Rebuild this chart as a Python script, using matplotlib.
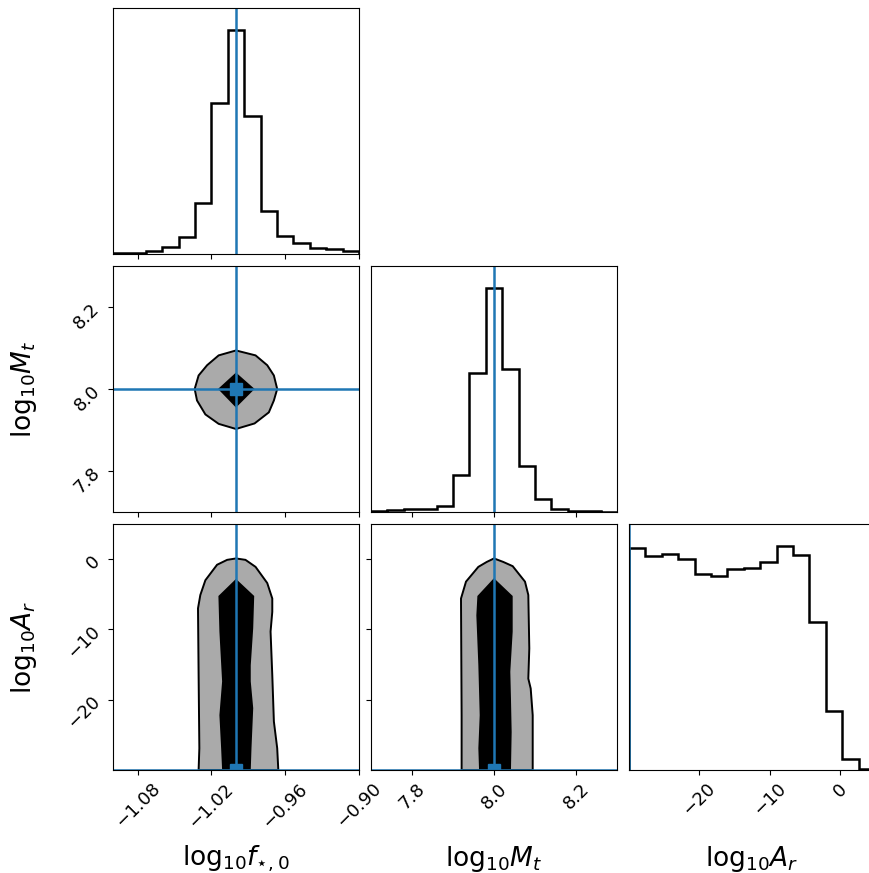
import numpy as np
import matplotlib
matplotlib.use("Agg")
import matplotlib.pyplot as plt

# ── parameter names, ranges and true values ──
labels = [r"$\mathrm{log}_{10}f_{\star,0}$", r"$\mathrm{log}_{10}M_t$", r"$\mathrm{log}_{10}A_r$"]
ranges = [(-1.10, -0.90), (7.7, 8.3), (-30.0, 5.0)]
truths = [-1.0, 8.0, -30.0]
ticks = [[-1.08, -1.02, -0.96, -0.90], [7.8, 8.0, 8.2], [-20, -10, 0]]

# ── 1D marginal histograms (15 bins each, counts) ──
hist_f = [2, 3, 10, 20, 50, 154, 452, 670, 413, 128, 54, 33, 19, 14, 10]
hist_mt = [2, 5, 8, 10, 18, 110, 413, 663, 425, 136, 38, 8, 3, 2, 1]
hist_ar = [668, 643, 650, 635, 588, 583, 605, 608, 625, 672, 646, 445, 176, 33, 3]
hists = [hist_f, hist_mt, hist_ar]

# ── 2D contour outlines (outer = gray level, inner = black level) ──
fmt_outer_f = [-1.0, -0.9841, -0.9746, -0.9692, -0.9665, -0.9692, -0.9733, -0.9849,
               -1.0, -1.0141, -1.0249, -1.0317, -1.0336, -1.0304, -1.0235, -1.0141]
fmt_outer_m = [8.094, 8.082, 8.058, 8.033, 8.0, 7.972, 7.943, 7.916,
               7.9025, 7.915, 7.938, 7.972, 8.0, 8.033, 8.058, 8.082]
fmt_inner_f = [-1.0, -0.986, -1.0, -1.0135]
fmt_inner_m = [8.037, 8.0, 7.958, 8.0]

far_outer_f = [-1.0304, -1.0298, -1.0304, -1.0309, -1.029, -1.0249, -1.0154, -1.0072, -1.0,
               -0.9923, -0.9841, -0.9746, -0.9705, -0.9705, -0.9719, -0.9705, -0.9692,
               -0.9665, -0.9656]
far_outer_a = [-30, -26.9, -16.5, -7.0, -5.1, -3.0, -0.8, -0.1, 0.1,
               -0.1, -1.1, -3.4, -5.6, -7.5, -10.3, -16.5, -23.1, -26.9, -30]
far_inner_f = [-1.0105, -1.0113, -1.0127, -1.0105, -1.0127, -1.0135, -1.0,
               -0.986, -0.9868, -0.9888, -0.9888, -0.9868, -0.9882, -0.9888]
far_inner_a = [-30, -26.9, -22.2, -17.4, -10.3, -5.3, -3.0,
               -5.3, -9.8, -15.1, -17.4, -21.2, -26.9, -30]

mar_outer_m = [7.921, 7.921, 7.9195, 7.9317, 7.9618, 7.9822, 8.0, 8.0227, 8.0456,
               8.0756, 8.0837, 8.0861, 8.0837, 8.0895, 8.0944, 8.0944]
mar_outer_a = [-30, -22.2, -5.6, -3.2, -1.1, -0.4, 0.1, -0.4, -1.0,
               -3.2, -5.1, -12.7, -17.0, -18.4, -22.2, -30]
mar_inner_m = [7.9659, 7.9642, 7.9675, 7.9642, 7.9593, 7.9618, 8.0,
               8.0432, 8.0432, 8.0374, 8.039, 8.0407, 8.039]
mar_inner_a = [-30, -26.9, -22.2, -15.1, -8.0, -5.3, -2.9,
               -5.3, -10.3, -16.0, -19.8, -24.6, -30]

contours = {
    (1, 0): ((fmt_outer_f, fmt_outer_m), (fmt_inner_f, fmt_inner_m)),
    (2, 0): ((far_outer_f, far_outer_a), (far_inner_f, far_inner_a)),
    (2, 1): ((mar_outer_m, mar_outer_a), (mar_inner_m, mar_inner_a)),
}

TRUTH = "#1f77b4"
GRAY = "#aaaaaa"
LABEL_FS = 19
TICK_FS = 13

W, H = 869, 873
fig = plt.figure(figsize=(W / 100, H / 100), dpi=100)


def panel(col, row):
    # 246 px panels with a 12 px gap, laid out like a corner plot
    x0 = 113 + col * 258
    y_top = 8 + row * 258
    return fig.add_axes([x0 / W, 1 - (y_top + 246) / H, 246 / W, 246 / H])


n = len(labels)
for row in range(n):
    for col in range(row + 1):
        ax = panel(col, row)
        if row == col:
            # ── marginal histogram ──
            counts = hists[col]
            edges = np.linspace(ranges[col][0], ranges[col][1], len(counts) + 1)
            ax.stairs(counts, edges, color="k", lw=1.8, baseline=0)
            ax.axvline(truths[col], color=TRUTH, lw=1.8)
            ax.set_xlim(ranges[col])
            ax.set_ylim(0, 1.1 * max(counts))
            ax.set_yticks([])
        else:
            # ── 2D contour panel ──
            (ox, oy), (ix, iy) = contours[(row, col)]
            ax.fill(ox, oy, facecolor=GRAY, edgecolor="k", lw=1.4)
            ax.fill(ix, iy, facecolor="k", edgecolor="k", lw=1.4)
            ax.axvline(truths[col], color=TRUTH, lw=1.8)
            ax.axhline(truths[row], color=TRUTH, lw=1.8)
            ax.plot(truths[col], truths[row], "s", color=TRUTH, ms=8)
            ax.set_xlim(ranges[col])
            ax.set_ylim(ranges[row])
            ax.set_yticks(ticks[row])
            if col == 0:
                ax.tick_params(axis="y", labelrotation=45, labelsize=TICK_FS)
                ax.set_ylabel(labels[row], fontsize=LABEL_FS)
                ax.yaxis.set_label_coords(-0.3, 0.5)
            else:
                ax.set_yticklabels([])

        ax.set_xticks(ticks[col])
        if row == n - 1:
            ax.tick_params(axis="x", labelrotation=45, labelsize=TICK_FS)
            ax.set_xlabel(labels[col], fontsize=LABEL_FS)
            ax.xaxis.set_label_coords(0.5, -0.3)
        else:
            ax.set_xticklabels([])

fig.savefig("out.png", dpi=100)
